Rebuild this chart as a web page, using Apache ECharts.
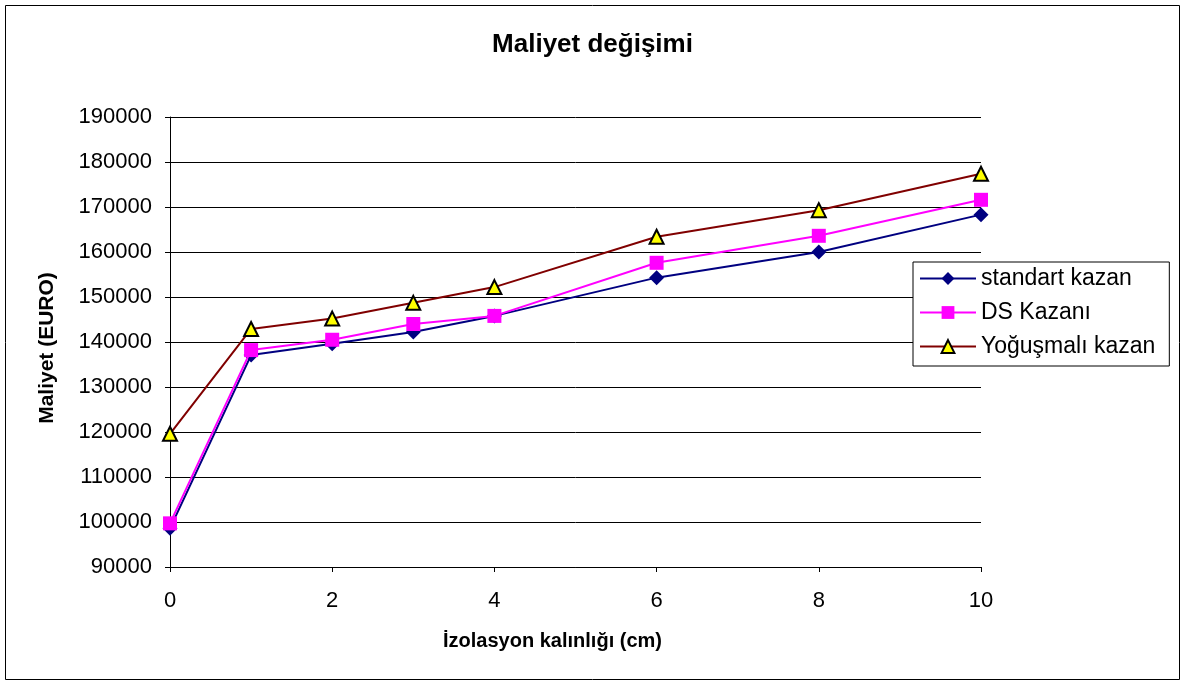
<!DOCTYPE html>
<html><head><meta charset="utf-8">
<script src="https://cdn.jsdelivr.net/npm/echarts@6/dist/echarts.min.js"></script>
<style>html,body{margin:0;padding:0;background:#fff}#c{width:1185px;height:686px}</style>
</head><body><div id="c"></div>
<script>
const xValues = [0, 1, 2, 3, 4, 6, 8, 10];
const standartKazan = [98600, 137100, 139600, 142200, 145800, 154300, 160000, 168300];
const dsKazani = [99700, 138200, 140500, 144000, 145800, 157600, 163600, 171600];
const yogusmaliKazan = [119600, 142900, 145200, 148700, 152200, 163400, 169300, 177400];
const seriesNames = ['standart kazan', 'DS Kazanı', 'Yoğuşmalı kazan'];

const font = '"Liberation Sans", Arial, sans-serif';
const pair = arr => xValues.map((x, i) => [x, arr[i]]);

const chart = echarts.init(document.getElementById('c'), null, {renderer: 'canvas'});
chart.setOption({
  backgroundColor: '#fff',
  animation: false,
  graphic: [{type: 'rect', shape: {x: 5.5, y: 5.5, width: 1174, height: 674}, style: {fill: 'none', stroke: '#000', lineWidth: 1}, silent: true}],
  title: {text: 'Maliyet değişimi', left: 'center', top: 27, textStyle: {fontFamily: font, fontSize: 26, fontWeight: 'bold', color: '#000'}},
  grid: {left: 170, right: 204, top: 117, bottom: 119, containLabel: false},
  legend: {
    orient: 'vertical', left: 913, top: 262,
    backgroundColor: '#fff', borderColor: '#000', borderWidth: 1,
    padding: [5, 14, 8, 6], itemGap: 11, itemWidth: 56, itemHeight: 16,
    textStyle: {fontFamily: font, fontSize: 23, color: '#000'},
    data: seriesNames
  },
  xAxis: {
    type: 'value', min: 0, max: 10, interval: 2,
    name: 'İzolasyon kalınlığı (cm)', nameLocation: 'middle', nameGap: 64,
    nameTextStyle: {fontFamily: font, fontSize: 20, fontWeight: 'bold', color: '#000', padding: [0, 46, 0, 0]},
    axisLine: {lineStyle: {color: '#000', width: 1}},
    axisTick: {show: true, length: 5, inside: false, lineStyle: {color: '#000'}},
    axisLabel: {fontFamily: font, fontSize: 22, color: '#000', margin: 23},
    splitLine: {show: false}
  },
  yAxis: {
    type: 'value', min: 90000, max: 190000, interval: 10000,
    name: 'Maliyet (EURO)', nameLocation: 'middle', nameGap: 112, nameRotate: 90,
    nameTextStyle: {fontFamily: font, fontSize: 21, fontWeight: 'bold', color: '#000', padding: [0, 12, 0, 0]},
    axisLine: {show: true, lineStyle: {color: '#000', width: 1}},
    axisTick: {show: true, length: 5, lineStyle: {color: '#000'}},
    axisLabel: {fontFamily: font, fontSize: 22, color: '#000', margin: 18, formatter: v => String(v)},
    splitLine: {show: true, lineStyle: {color: '#000', width: 1}}
  },
  series: [
    {name: seriesNames[0], type: 'line', data: pair(standartKazan), symbol: 'diamond', symbolSize: 15,
     lineStyle: {color: '#000080', width: 2}, itemStyle: {color: '#000080'}, z: 3},
    {name: seriesNames[1], type: 'line', data: pair(dsKazani), symbol: 'rect', symbolSize: 14,
     lineStyle: {color: '#FF00FF', width: 2}, itemStyle: {color: '#FF00FF'}, z: 4},
    {name: seriesNames[2], type: 'line', data: pair(yogusmaliKazan), symbol: 'triangle', symbolSize: 14,
     lineStyle: {color: '#800000', width: 2}, itemStyle: {color: '#FFFF00', borderColor: '#000', borderWidth: 2}, z: 5}
  ]
});
</script></body></html>
